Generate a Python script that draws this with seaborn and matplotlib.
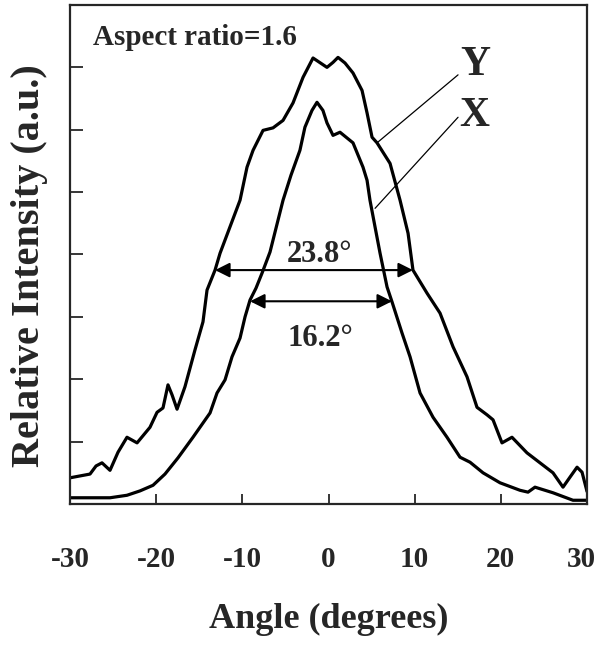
import numpy as np
import matplotlib
matplotlib.use("Agg")
import matplotlib.pyplot as plt
import matplotlib.transforms as mtransforms
import pandas as pd
import seaborn as sns

# curve Y (wider profile)
y_angle = [-30.0, -28.84, -27.68, -26.98, -26.29, -25.36, -24.43, -23.39, -22.22, -20.72,
           -19.90, -19.21, -18.63, -18.16, -17.58, -16.66, -15.50, -14.57, -14.10, -13.17,
           -12.59, -10.27, -9.46, -8.76, -7.60, -6.44, -5.28, -4.12, -2.96, -1.80,
           -0.18, 0.52, 1.10, 1.91, 2.84, 3.89, 4.47, 5.05, 5.63, 7.14,
           8.30, 9.23, 9.80, 11.43, 12.94, 14.45, 16.07, 17.23, 18.39, 19.09,
           20.13, 21.29, 23.03, 24.54, 26.05, 27.21, 28.02, 28.84, 29.42, 30.0]
y_int = [0.42, 0.45, 0.48, 0.61, 0.66, 0.54, 0.83, 1.07, 0.98, 1.23,
         1.47, 1.54, 1.91, 1.75, 1.52, 1.88, 2.47, 2.92, 3.43, 3.75,
         4.02, 4.87, 5.40, 5.67, 5.99, 6.03, 6.15, 6.43, 6.84, 7.15,
         7.00, 7.08, 7.16, 7.07, 6.91, 6.63, 6.27, 5.88, 5.79, 5.46,
         4.87, 4.34, 3.75, 3.38, 3.06, 2.52, 2.04, 1.55, 1.43, 1.35,
         0.98, 1.07, 0.82, 0.66, 0.50, 0.27, 0.43, 0.59, 0.51, 0.20]

# curve X (narrower profile)
x_angle = [-30.0, -25.36, -23.39, -21.88, -20.37, -18.98, -17.47, -15.73, -13.75, -12.94,
           -12.01, -11.20, -10.27, -9.69, -9.11, -8.42, -7.72, -6.79, -5.28, -4.36,
           -3.32, -2.74, -1.92, -1.34, -0.65, -0.18, 0.52, 1.33, 2.84, 4.00,
           4.47, 4.81, 5.40, 5.98, 6.79, 7.37, 8.53, 9.46, 10.62, 12.13,
           13.75, 15.26, 16.42, 17.93, 19.90, 22.22, 23.15, 23.96, 26.05, 28.37, 30.0]
x_int = [0.10, 0.10, 0.14, 0.21, 0.30, 0.48, 0.74, 1.07, 1.46, 1.78,
         1.99, 2.36, 2.66, 3.00, 3.27, 3.46, 3.70, 4.04, 4.87, 5.27,
         5.67, 6.04, 6.31, 6.44, 6.31, 6.11, 5.91, 5.96, 5.79, 5.40,
         5.19, 4.87, 4.44, 4.02, 3.48, 3.24, 2.74, 2.36, 1.78, 1.39,
         1.07, 0.75, 0.67, 0.50, 0.34, 0.22, 0.19, 0.27, 0.18, 0.06, 0.06]

# FWHM arrows: (left, right, height)
fwhm_y = [-13.17, 9.80, 3.75]
fwhm_x = [-9.11, 7.37, 3.25]
fwhm_labels = ["23.8°", "16.2°"]

xticks = [-30, -20, -10, 0, 10, 20, 30]
xtick_labels = ["-30", "-20", "-10", "0", "10", "20", "30"]

sns.set_style("ticks")
plt.rcParams['font.family'] = ['Liberation Serif', 'DejaVu Serif']
plt.rcParams['font.weight'] = 'bold'

fig = plt.figure(figsize=(6, 6.56), dpi=100)
ax = fig.add_axes([0.1167, 0.2317, 0.8617, 0.7607])

dfy = pd.DataFrame({"angle": y_angle, "intensity": y_int})
dfx = pd.DataFrame({"angle": x_angle, "intensity": x_int})
sns.lineplot(data=dfy, x="angle", y="intensity", color="black", lw=2.3, ax=ax, estimator=None, sort=False)
sns.lineplot(data=dfx, x="angle", y="intensity", color="black", lw=2.3, ax=ax, estimator=None, sort=False)

ax.set_xlim(-30, 30)
ax.set_ylim(0, 8)
ax.set_xticks(xticks)
ax.set_xticklabels(xtick_labels, fontsize=21, fontweight='bold')
ax.set_yticks([1, 2, 3, 4, 5, 6, 7])
ax.set_yticklabels([])
ax.tick_params(axis='x', direction='in', length=7, width=1.3, pad=30)
ax.tick_params(axis='y', direction='in', length=9, width=1.3)
for s in ax.spines.values():
    s.set_linewidth(1.6)

# nudge the last tick label so it stays inside the figure
last = ax.get_xticklabels()[-1]
last.set_transform(last.get_transform() + mtransforms.ScaledTranslation(-4 / 72, 0, fig.dpi_scale_trans))

ax.set_xlabel("Angle (degrees)", fontsize=26, fontweight='bold')
ax.xaxis.set_label_coords(0.5, -0.232)
ax.xaxis.label.set_va('center')
ax.set_ylabel("Relative Intensity (a.u.)", fontsize=29, fontweight='bold')
ax.yaxis.set_label_coords(-0.078, 0.477)
ax.yaxis.label.set_va('center')

# double-headed FWHM arrows
for (l, r, h) in [fwhm_y, fwhm_x]:
    ax.annotate("", xy=(l, h), xytext=(r, h),
                arrowprops=dict(arrowstyle='<|-|>', color='black', lw=1.5,
                                mutation_scale=22, shrinkA=0, shrinkB=0))
ax.text(-1.0, 4.0, fwhm_labels[0], ha='center', va='center', fontsize=22, fontweight='bold')
ax.text(-1.0, 2.66, fwhm_labels[1], ha='center', va='center', fontsize=22, fontweight='bold')

ax.text(-27.33, 7.48, "Aspect ratio=1.6", ha='left', va='center', fontsize=21, fontweight='bold')

# curve labels with leader lines
ax.plot([5.63, 15.03], [5.79, 6.88], color='black', lw=0.9)
ax.plot([5.40, 15.03], [4.74, 6.20], color='black', lw=0.9)
ax.text(17.0, 7.04, "Y", ha='center', va='center', fontsize=30, fontweight='bold')
ax.text(16.9, 6.22, "X", ha='center', va='center', fontsize=30, fontweight='bold')

fig.savefig("out.png", dpi=100)
